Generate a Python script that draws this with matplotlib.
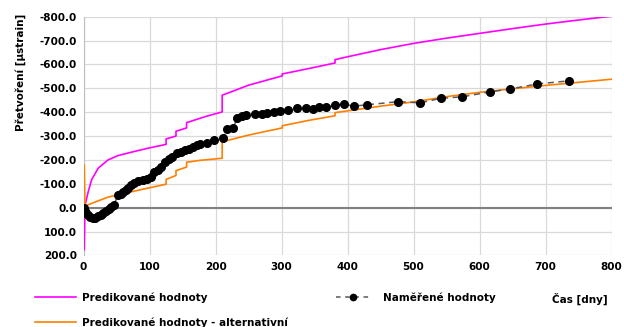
import matplotlib
matplotlib.use('Agg')
import matplotlib.pyplot as plt
from matplotlib.lines import Line2D

# predicted values
pred_days = [1, 2, 3, 4, 7, 12, 22, 37, 52, 72, 96, 125, 125, 140, 140, 156, 156,
             175, 190, 210, 210, 250, 301, 301, 340, 381, 381, 400, 450, 500, 550,
             600, 650, 700, 750, 800]
pred_vals = [176, 0, -20, -32, -67, -116, -165, -200, -218, -232, -248, -265, -288,
             -300, -320, -334, -356, -373, -386, -401, -471, -513, -552, -560, -582,
             -606, -620, -632, -662, -688, -710, -730, -750, -769, -786, -802]

# predicted values - alternative
alt_days = [1, 2, 5, 17, 37, 57, 96, 125, 125, 140, 140, 156, 156, 176, 210, 210,
            250, 301, 301, 340, 381, 381, 450, 500, 550, 600, 650, 700, 750, 800]
alt_vals = [-178, 0, -10, -23, -44, -57, -81, -98, -118, -135, -155, -170, -190,
            -198, -207, -276, -304, -334, -343, -365, -385, -398, -425, -443, -465,
            -483, -498, -512, -525, -538]

# measured values
meas_days = [1, 2, 4, 7, 10, 14, 18, 22, 26, 30, 34, 38, 42, 46, 52, 56, 60, 64, 68,
             72, 76, 82, 90, 96, 102, 107, 112, 117, 124, 130, 134, 141, 148, 154,
             159, 166, 172, 177, 187, 197, 211, 218, 226, 233, 240, 246, 260, 270,
             278, 289, 298, 309, 324, 337, 347, 357, 368, 381, 395, 409, 430, 477,
             510, 541, 573, 616, 646, 687, 735]
meas_vals = [0, 12, 21, 32, 40, 44, 42, 37, 30, 22, 14, 6, -2, -12, -52, -58, -67,
             -74, -82, -95, -104, -110, -116, -122, -130, -148, -158, -171, -190,
             -205, -213, -227, -234, -240, -245, -255, -262, -267, -272, -285, -290,
             -328, -332, -374, -384, -388, -392, -392, -397, -402, -406, -409, -416,
             -416, -412, -420, -420, -429, -434, -425, -431, -444, -439, -458, -464,
             -485, -497, -518, -531]

x_ticks = [0, 100, 200, 300, 400, 500, 600, 700, 800]
y_ticks = [-800, -700, -600, -500, -400, -300, -200, -100, 0, 100, 200]

fig = plt.figure(figsize=(6.24, 3.27), dpi=100)
ax = fig.add_axes([0.134, 0.219, 0.846, 0.730])

magenta = '#ff00ff'
orange = '#ff8000'

ax.axhline(0, color='#808080', lw=1.5, zorder=1.5)
ax.plot(pred_days, pred_vals, color=magenta, lw=1.2, zorder=2.5)
ax.plot(alt_days, alt_vals, color=orange, lw=1.2, zorder=2.5)
ax.plot(meas_days, meas_vals, color='#595959', lw=1.1, ls=(0, (4, 3)),
        marker='o', ms=5.5, mfc='black', mec='black', zorder=3)

ax.set_xlim(0, 800)
ax.set_ylim(200, -800)
ax.set_xticks(x_ticks)
ax.set_yticks(y_ticks)
ax.set_yticklabels(['{:.1f}'.format(v) for v in y_ticks])
ax.grid(True, color='#d9d9d9', lw=0.9)
ax.set_axisbelow(True)
ax.tick_params(length=0, labelsize=7.5, pad=5)
for lab in ax.get_xticklabels() + ax.get_yticklabels():
    lab.set_fontweight('bold')
for side in ['top', 'right', 'bottom']:
    ax.spines[side].set_visible(False)
ax.spines['left'].set_color('#bfbfbf')
ax.spines['left'].set_zorder(1)

ax.set_ylabel('Přetvoření [µstrain]', fontsize=7.5, fontweight='bold')
ax.yaxis.set_label_coords(-0.11, 0.766)
ax.set_xlabel('Čas [dny]', fontsize=7.5, fontweight='bold')
ax.xaxis.set_label_coords(0.94, -0.155)

h1 = [Line2D([], [], color=magenta, lw=1.2),
      Line2D([], [], color=orange, lw=1.2)]
leg1 = fig.legend(h1, ['Predikované hodnoty', 'Predikované hodnoty - alternativní'],
                  loc='upper left', bbox_to_anchor=(0.056, 0.106), frameon=False,
                  borderpad=0, borderaxespad=0, handlelength=3.9, handletextpad=0.6,
                  labelspacing=1.4, prop={'size': 7.5, 'weight': 'bold'})
h2 = [Line2D([], [], color='#595959', lw=1.1, ls=(0, (3, 3)), marker='o', ms=4.5,
             mfc='black', mec='black')]
leg2 = fig.legend(h2, ['Naměřené hodnoty'], loc='upper left',
                  bbox_to_anchor=(0.538, 0.106), frameon=False, borderpad=0,
                  borderaxespad=0, handlelength=3.3, handletextpad=1.2,
                  prop={'size': 7.5, 'weight': 'bold'})

fig.savefig('out.png', dpi=100)
